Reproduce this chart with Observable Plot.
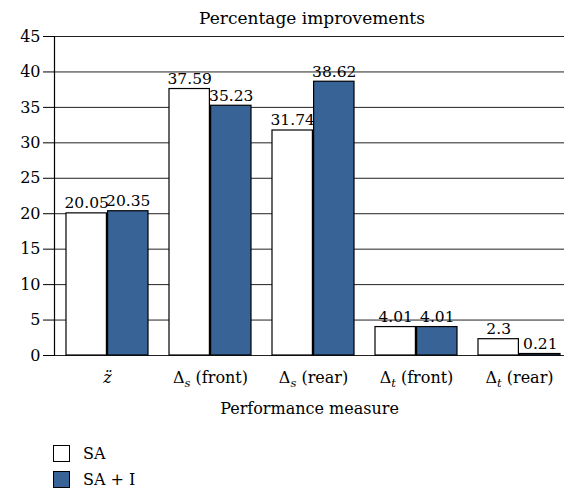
<!DOCTYPE html>
<html><head><meta charset="utf-8">
<script src="https://cdn.jsdelivr.net/npm/d3@7"></script>
<script src="https://cdn.jsdelivr.net/npm/@observablehq/plot@0.6"></script>
<style>
body{margin:0;background:#fff;font-family:"DejaVu Serif",serif;color:#000;}
#wrap{position:relative;width:568px;}
#title{position:absolute;left:0;top:0;box-sizing:border-box;width:568px;height:30px;line-height:30px;padding-top:3px;padding-left:56px;text-align:center;font-size:17px;z-index:2;}
#chart svg{display:block;}
#legend{margin-top:20px;margin-left:53px;font-size:16px;}
.row{display:flex;align-items:center;height:17px;margin-bottom:9px;}
.sw{box-sizing:border-box;width:17px;height:17px;border:1.3px solid #000;}
.lab{margin-left:13px;}
</style></head>
<body>
<div id="wrap">
<div id="title">Percentage improvements</div>
<div id="chart"></div>
<div id="legend"></div>
</div>
<script>
const categories = ["z̈", "Δₛ (front)", "Δₛ (rear)", "Δₜ (front)", "Δₜ (rear)"];
const seriesNames = ["SA", "SA + I"];
const saValues = [20.05, 37.59, 31.74, 4.01, 2.3];
const saiValues = [20.35, 35.23, 38.62, 4.01, 0.21];
const yTicks = [0, 5, 10, 15, 20, 25, 30, 35, 40, 45];
const seriesColors = ["#ffffff", "#386396"];
const xLabel = "Performance measure";

const saData = categories.map((c, i) => ({category: c, series: seriesNames[0], value: saValues[i]}));
const saiData = categories.map((c, i) => ({category: c, series: seriesNames[1], value: saiValues[i]}));
const half = 41.6;

const chart = Plot.plot({
  width: 568, height: 425,
  marginTop: 36, marginLeft: 54, marginRight: 4, marginBottom: 70,
  style: {fontFamily: "DejaVu Serif", fontSize: "16px", color: "#000", background: "#fff"},
  x: {type: "band", domain: categories, paddingInner: 0.2, paddingOuter: 0.0566, align: 0.8, label: null},
  y: {domain: [0, 45], label: null},
  color: {domain: seriesNames, range: seriesColors},
  marks: [
    Plot.gridY(yTicks, {stroke: "#222", strokeOpacity: 1, strokeWidth: 1}),
    Plot.axisY(yTicks, {tickSize: 11, tickPadding: 3, fontSize: 16, label: null}),
    Plot.axisX({tickSize: 0, tickPadding: 16, fontSize: 16, label: null}),
    Plot.barY(saData, {x: "category", y: "value", fill: "series", stroke: "#000", strokeWidth: 1.2, insetRight: half}),
    Plot.barY(saiData, {x: "category", y: "value", fill: "series", stroke: "#000", strokeWidth: 1.2, insetLeft: half}),
    Plot.frame({anchor: "left", stroke: "#000", strokeWidth: 1.2}),
    Plot.text(saData, {x: "category", y: "value", text: "value", dx: -half / 2, dy: -10, fontSize: 15.5}),
    Plot.text(saiData, {x: "category", y: "value", text: "value", dx: half / 2, dy: -10, fontSize: 15.5}),
    Plot.text([xLabel], {frameAnchor: "bottom", dy: 58, fontSize: 16})
  ]
});
document.getElementById("chart").appendChild(chart);

// math-style tick labels (subscripts, italics)
const NS = "http://www.w3.org/2000/svg";
chart.querySelectorAll('g[aria-label="x-axis tick label"] text').forEach(t => {
  const s = t.textContent;
  while (t.firstChild) t.removeChild(t.firstChild);
  const add = (txt, attrs) => {
    const ts = document.createElementNS(NS, "tspan");
    ts.textContent = txt;
    for (const k in attrs) ts.setAttribute(k, attrs[k]);
    t.appendChild(ts);
  };
  const m = s.match(/^Δ([ₛₜ])(.*)$/);
  if (m) {
    add("Δ", {});
    add(m[1] === "ₛ" ? "s" : "t", {"font-style": "italic", "font-size": "11.5", dy: "4"});
    add(m[2], {dy: "-4"});
  } else {
    add(s, {"font-style": "italic"});
  }
});

const legend = document.getElementById("legend");
seriesNames.forEach((n, i) => {
  const row = document.createElement("div");
  row.className = "row";
  const sw = document.createElement("div");
  sw.className = "sw";
  sw.style.background = seriesColors[i];
  const lab = document.createElement("span");
  lab.className = "lab";
  lab.textContent = n;
  row.appendChild(sw); row.appendChild(lab);
  legend.appendChild(row);
});
</script>
</body></html>
